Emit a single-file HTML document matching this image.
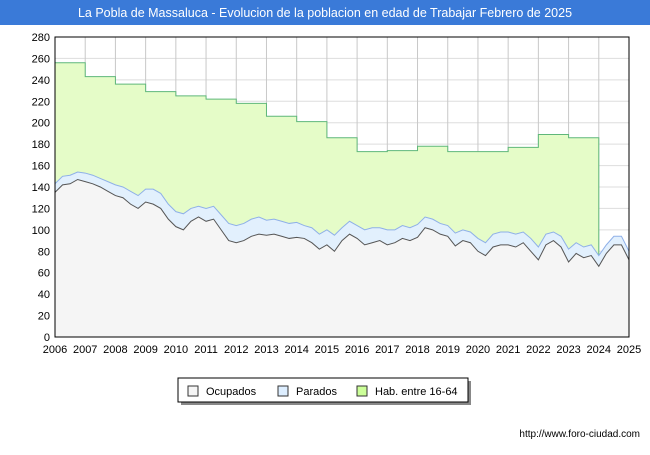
<!DOCTYPE html>
<html><head><meta charset="utf-8"><style>
body{margin:0;width:650px;height:450px;background:#fff;font-family:"Liberation Sans",sans-serif;overflow:hidden}
</style></head><body>
<svg width="650" height="450" font-family="Liberation Sans, sans-serif">
<rect x="0" y="0" width="650" height="25" fill="#3a7ad8"/>
<text x="325" y="17" text-anchor="middle" fill="#fff" font-size="12.5">La Pobla de Massaluca - Evolucion de la poblacion en edad de Trabajar Febrero de 2025</text>
<rect x="55" y="37" width="574" height="300" fill="#fff" stroke="none"/>
<g id="grid"></g>
<g id="marks"></g>
<g id="axes"></g>
<g>
<rect x="181" y="381" width="290" height="24" fill="#888"/>
<rect x="178" y="378" width="290" height="24" fill="#fff" stroke="#000"/>
<rect x="188" y="386" width="10" height="10" fill="#f5f5f5" stroke="#333"/>
<text x="206" y="395" font-size="11">Ocupados</text>
<rect x="278" y="386" width="10" height="10" fill="#ddeeff" stroke="#333"/>
<text x="296" y="395" font-size="11">Parados</text>
<rect x="357" y="386" width="10" height="10" fill="#ccff99" stroke="#333"/>
<text x="375" y="395" font-size="11">Hab. entre 16-64</text>
</g>
<text x="640" y="437" text-anchor="end" font-size="10">http://www.foro-ciudad.com</text>
</svg>
<script>
const years=[2006,2007,2008,2009,2010,2011,2012,2013,2014,2015,2016,2017,2018,2019,2020,2021,2022,2023];
const hab=[256,243,236,229,225,222,218,206,201,186,173,174,178,173,173,177,189,186];
const ocupados=[135,142,143,147,145,143,140,136,132,130,124,120,126,124,120,110,103,100,108,112,108,110,100,90,88,90,94,96,95,96,94,92,93,92,88,82,86,80,90,96,92,86,88,90,86,88,92,90,93,102,100,96,94,85,90,88,80,76,84,86,86,84,88,80,72,86,90,84,70,78,74,76,66,78,86,86,72];
const parados=[8,8,8,7,8,8,8,9,10,10,12,12,12,14,14,14,14,15,12,10,12,12,14,16,16,16,16,16,14,14,14,14,14,12,14,14,14,15,12,12,12,14,14,12,14,12,12,12,12,10,10,10,10,12,10,10,12,12,12,12,12,12,10,12,12,10,8,10,12,10,10,10,10,8,8,8,8];
const yTicks=[0,20,40,60,80,100,120,140,160,180,200,220,240,260,280];
const xTicks=[2006,2007,2008,2009,2010,2011,2012,2013,2014,2015,2016,2017,2018,2019,2020,2021,2022,2023,2024,2025];
const X0=55,X1=629,Y0=337,Y1=37;
const xs=t=>X0+(t-2006)/19*(X1-X0);
const ys=v=>Y0-v/280*(Y0-Y1);
const NS="http://www.w3.org/2000/svg";
function mk(tag,attrs,parent){const e=document.createElementNS(NS,tag);for(const k in attrs)e.setAttribute(k,attrs[k]);parent.appendChild(e);return e;}
const grid=document.getElementById('grid'),marks=document.getElementById('marks'),axes=document.getElementById('axes');
yTicks.forEach(v=>{mk('line',{x1:X0,x2:X1,y1:ys(v),y2:ys(v),stroke:'#ddd'},grid);
const t=mk('text',{x:X0-5,y:ys(v)+4,'text-anchor':'end','font-size':11},axes);t.textContent=v;
});
xTicks.forEach(v=>{mk('line',{x1:xs(v),x2:xs(v),y1:Y1,y2:Y0,stroke:'#c8c8c8'},grid);
const t=mk('text',{x:xs(v),y:Y0+16,'text-anchor':'middle','font-size':11},axes);t.textContent=v;
});
let d=`M${xs(years[0])},${ys(0)}`;
years.forEach((y,i)=>{d+=` L${xs(y)},${ys(hab[i])} L${xs(y+1)},${ys(hab[i])}`;});
const lastT=years[years.length-1]+1;
const tot=ocupados.map((o,i)=>o+parados[i]);
const qi=(lastT-2006)*4;
d+=` L${xs(lastT)},${ys(tot[qi])} L${xs(lastT)},${ys(0)} Z`;
const hp=mk('path',{d:d,fill:'#e5fcc8',stroke:'#5fb77a','stroke-width':1},marks);

function area(vals,fill,stroke,name){
let p=`M${xs(2006)},${ys(0)}`;let l='';
vals.forEach((v,i)=>{const t=2006+i/4;p+=` L${xs(t)},${ys(v)}`;l+=(i?' L':'M')+`${xs(t)},${ys(v)}`;});
p+=` L${xs(2006+(vals.length-1)/4)},${ys(0)} Z`;
const a=mk('path',{d:p,fill:fill},marks);
const ln=mk('path',{d:l,fill:'none',stroke:stroke,'stroke-width':1},marks);}
area(tot,'#e2f0fd','#8fb0e8','parados');
area(ocupados,'#f5f5f5','#555','ocupados');
mk('rect',{x:X0,y:Y1,width:X1-X0,height:Y0-Y1,fill:'none',stroke:'#000'},axes);
</script>
</body></html>
